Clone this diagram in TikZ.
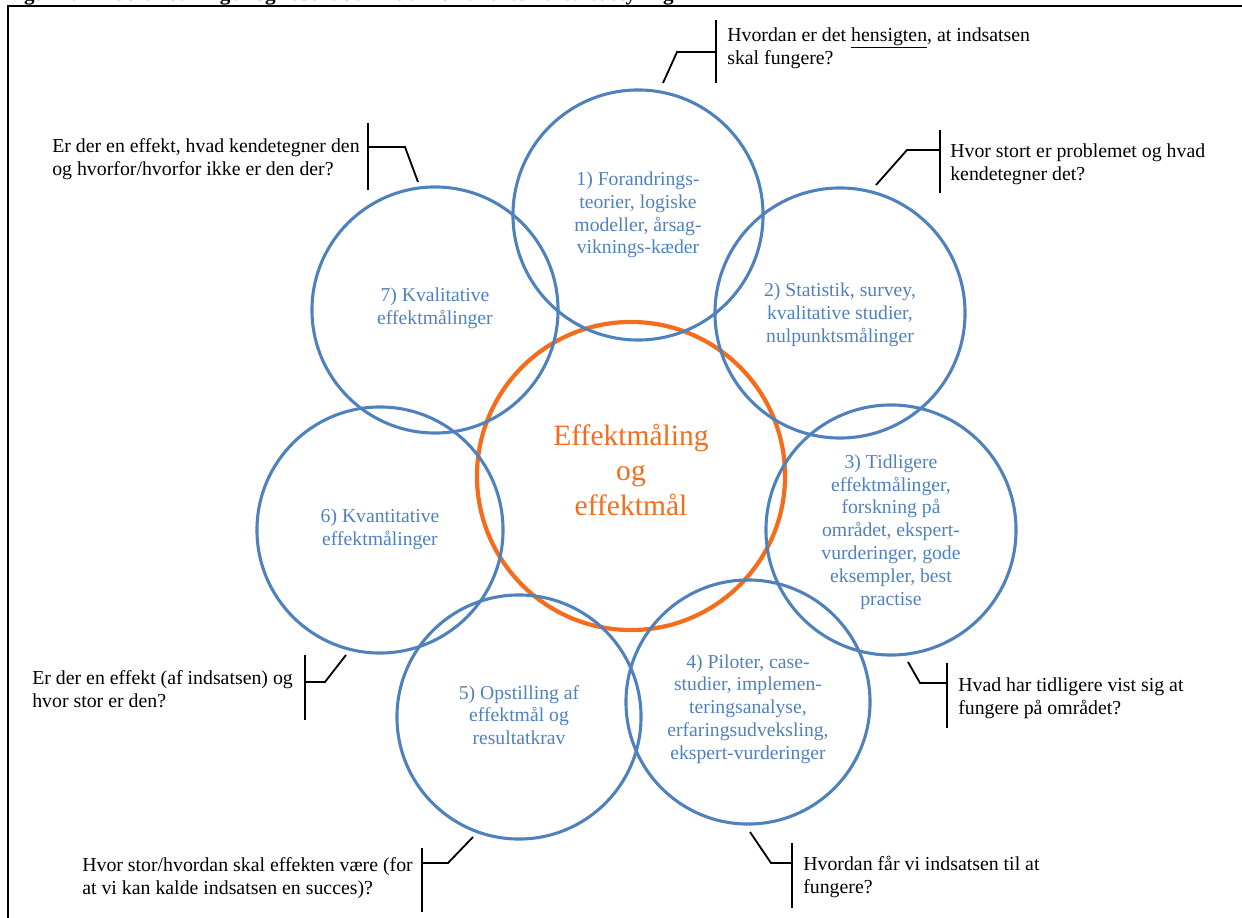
\documentclass[tikz,border=0pt]{standalone}
\usepackage{fontspec}
\setmainfont{Liberation Serif}
\usepackage{tikz}
\definecolor{bubbleblue}{RGB}{79,129,189}
\definecolor{coreorange}{RGB}{244,109,28}

\begin{document}
\begin{tikzpicture}[x=0.025cm,y=-0.025cm,
			bubble/.style={circle,draw=bubbleblue,line width=2.2pt,inner sep=0pt},
			core/.style={circle,draw=coreorange,line width=3pt,inner sep=0pt},
			bubbletext/.style={text=bubbleblue,align=center,inner sep=0pt,font=\fontsize{14}{16.2}\selectfont},
			coretext/.style={text=coreorange,align=center,inner sep=0pt,font=\fontsize{21}{25}\selectfont},
			question/.style={anchor=west,align=left,inner sep=0pt,font=\fontsize{14.1}{16.2}\selectfont},
			callout/.style={line width=1.3pt},
			frame/.style={line width=1.6pt}]
			\useasboundingbox (0,0) rectangle (1242,918);
			\node[anchor=base west,inner sep=0pt,font=\bfseries\fontsize{15}{17}\selectfont] (title) at (5,1)
				{Figur 1.1 Problemstillinger og redskaber inden for effektorienteret styring};
			\draw[frame] (8,930) -- (8,6) -- (1250,6);
			
			\node[core,minimum size=7.7cm] (core) at (631,476) {};
			\node[bubble,minimum size=6.25cm] (c1) at (638,215) {};
			\node[bubble,minimum size=6.25cm] (c2) at (840,313) {};
			\node[bubble,minimum size=6.25cm] (c3) at (891,530) {};
			\node[bubble,minimum size=6.1cm] (c4) at (748,702) {};
			\node[bubble,minimum size=6.1cm] (c5) at (519,717) {};
			\node[bubble,minimum size=6.15cm] (c6) at (380,530) {};
			\node[bubble,minimum size=6.15cm] (c7) at (435,310) {};
			
			\node[coretext] (coreT) at (631,470) {Effektmåling\\og\\effektmål};
			\node[bubbletext] (t1) at (638,215) {1) Forandrings-\\teorier, logiske\\modeller, årsag-\\viknings-kæder};
			\node[bubbletext] (t2) at (840,315) {2) Statistik, survey,\\kvalitative studier,\\nulpunktsmålinger};
			\node[bubbletext] (t3) at (891,532) {3) Tidligere\\effektmålinger,\\forskning på\\området, ekspert-\\vurderinger, gode\\eksempler, best\\practise};
			\node[bubbletext] (t4) at (748,709) {4) Piloter, case-\\studier, implemen-\\teringsanalyse,\\erfaringsudveksling,\\ekspert-vurderinger};
			\node[bubbletext] (t5) at (519,715) {5) Opstilling af\\effektmål og\\resultatkrav};
			\node[bubbletext] (t6) at (380,529) {6) Kvantitative\\effektmålinger};
			\node[bubbletext] (t7) at (435,308) {7) Kvalitative\\effektmålinger};
			
			\node[question] (q1) at (727,48) {Hvordan er det \underline{hensigten}, at indsatsen\\skal fungere?};
			\node[question] (q2) at (950,164) {Hvor stort er problemet og hvad\\kendetegner det?};
			\node[question] (q3) at (958,698) {Hvad har tidligere vist sig at\\fungere på området?};
			\node[question] (q4) at (803,877) {Hvordan får vi indsatsen til at\\fungere?};
			\node[question] (q5) at (82,878) {Hvor stor/hvordan skal effekten være (for\\at vi kan kalde indsatsen en succes)?};
			\node[question] (q6) at (32,689) {Er der en effekt (af indsatsen) og\\hvor stor er den?};
			\node[question] (q7) at (52,159) {Er der en effekt, hvad kendetegner den\\og hvorfor/hvorfor ikke er den der?};
			
			\coordinate (b1) at (716,52); \coordinate (k1) at (677,52); \coordinate (e1) at (663,83);
			\coordinate (b2) at (940,150); \coordinate (k2) at (907,150); \coordinate (e2) at (876,185);
			\coordinate (b3) at (947,683); \coordinate (k3) at (920,683); \coordinate (e3) at (908,662);
			\coordinate (b4) at (792,863); \coordinate (k4) at (771,863); \coordinate (e4) at (750,832);
			\coordinate (b5) at (422,863); \coordinate (k5) at (448,863); \coordinate (e5) at (473,837);
			\coordinate (b6) at (305,682); \coordinate (k6) at (325,682); \coordinate (e6) at (346,655);
			\coordinate (b7) at (368,147); \coordinate (k7) at (405,147); \coordinate (e7) at (418,182);
			
			\draw[callout] (b1) ++(0,-32) -- ++(0,63);
			\draw[callout] (b2) ++(0,-20) -- ++(0,63);
			\draw[callout] (b3) ++(0,-20) -- ++(0,65);
			\draw[callout] (b4) ++(0,-20) -- ++(0,65);
			\draw[callout] (b5) ++(0,-15) -- ++(0,64);
			\draw[callout] (b6) ++(0,-27) -- ++(0,65);
			\draw[callout] (b7) ++(0,-24) -- ++(0,67);
			\draw[callout] (b1) -- (k1) -- (e1);
			\draw[callout] (b2) -- (k2) -- (e2);
			\draw[callout] (b3) -- (k3) -- (e3);
			\draw[callout] (b4) -- (k4) -- (e4);
			\draw[callout] (b5) -- (k5) -- (e5);
			\draw[callout] (b6) -- (k6) -- (e6);
			\draw[callout] (b7) -- (k7) -- (e7);
			\end{tikzpicture}
\end{document}
